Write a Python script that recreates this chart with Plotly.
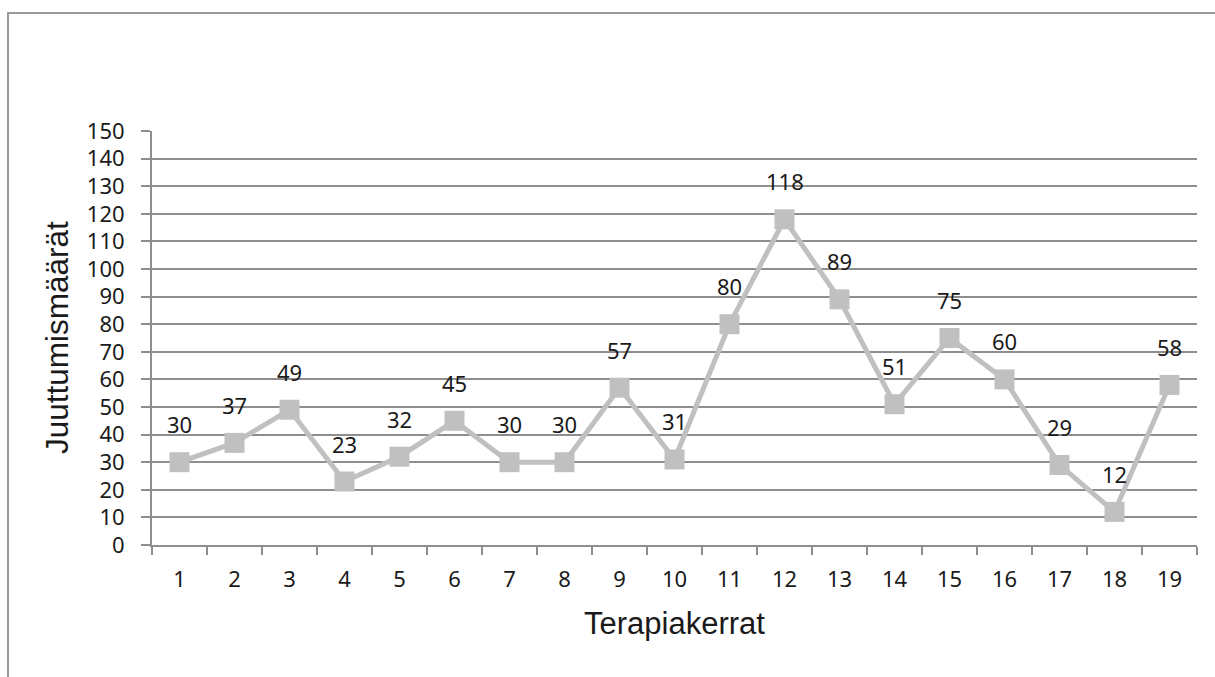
import plotly.graph_objects as go

# Therapy sessions and counts per session
sessions = [str(i) for i in range(1, 20)]
counts = [30, 37, 49, 23, 32, 45, 30, 30, 57, 31, 80, 118, 89, 51, 75, 60, 29, 12, 58]
y_ticks = list(range(0, 151, 10))

GRID = "#8e8e8e"
SERIES = "#c0c0c0"
TEXT = "#1a1a1a"
NUM_FONT = "Noto Sans"
TITLE_FONT = "Liberation Sans"

fig = go.Figure()
fig.add_trace(go.Scatter(
    x=sessions, y=counts, mode="lines+markers",
    line=dict(color=SERIES, width=5),
    marker=dict(symbol="square", size=20, color=SERIES),
    hoverinfo="skip", showlegend=False,
))

# Value labels above each point (category axis positions are indices)
for idx, c in enumerate(counts):
    fig.add_annotation(
        x=idx, y=c, text=str(c), showarrow=False,
        xanchor="center", yanchor="middle", yshift=38,
        font=dict(family=NUM_FONT, size=22, color=TEXT),
    )

L, R, T, B = 152, 18, 131, 132
W, H = 1215, 677
pw, ph = W - L - R, H - T - B

# Axis titles
fig.add_annotation(
    xref="paper", yref="paper", x=0.5, y=(545 - 623) / ph,
    text="Terapiakerrat", showarrow=False, xanchor="center", yanchor="middle",
    font=dict(family=TITLE_FONT, size=31, color=TEXT),
)
fig.add_annotation(
    xref="paper", yref="paper", x=(57 - L) / pw, y=0.5,
    text="Juuttumismäärät", showarrow=False, textangle=-90,
    xanchor="center", yanchor="middle",
    font=dict(family=TITLE_FONT, size=31.5, color=TEXT),
)

# Outer chart frame
fig.add_shape(
    type="rect", xref="paper", yref="paper",
    x0=(8 - L) / pw, x1=(W + 20 - L) / pw,
    y0=(545 - (H + 20)) / ph, y1=(545 - 13) / ph,
    line=dict(color="#9a9a9a", width=2), fillcolor="rgba(0,0,0,0)",
    layer="below",
)

fig.update_layout(
    width=W, height=H,
    margin=dict(l=L, r=R, t=T, b=B),
    paper_bgcolor="white", plot_bgcolor="white",
    xaxis=dict(
        type="category", categoryorder="array", categoryarray=sessions,
        range=[-0.5, 18.5], tickson="boundaries",
        showgrid=False, showline=True, linecolor=GRID, linewidth=2,
        ticks="outside", ticklen=8, tickwidth=2, tickcolor=GRID,
        tickfont=dict(family=NUM_FONT, size=22, color=TEXT),
        ticklabelstandoff=14, zeroline=False,
    ),
    yaxis=dict(
        range=[0, 150], tickvals=y_ticks,
        showgrid=True, gridcolor=GRID, gridwidth=2,
        showline=True, linecolor=GRID, linewidth=2,
        ticks="outside", ticklen=9, tickwidth=2, tickcolor=GRID,
        tickfont=dict(family=NUM_FONT, size=22, color=TEXT),
        ticklabelstandoff=12, zeroline=False,
    ),
)

fig.write_html("out.html")
